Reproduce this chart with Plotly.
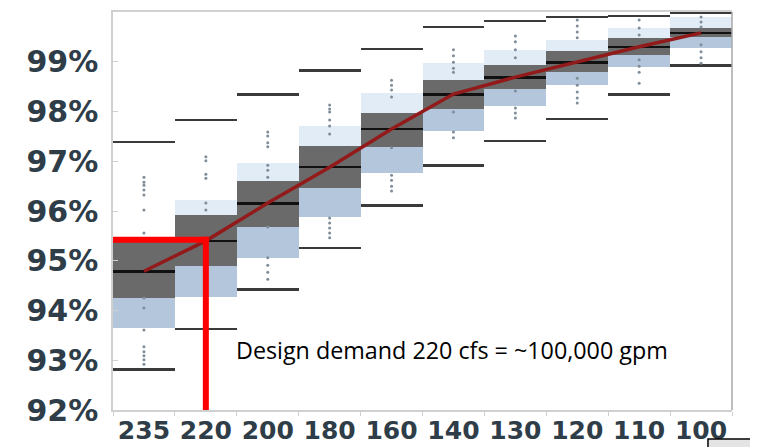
import plotly.graph_objects as go

# ---- data ----
categories = ["235", "220", "200", "180", "160", "140", "130", "120", "110", "100"]
whisker_max = [97.39, 97.83, 98.35, 98.83, 99.26, 99.70, 99.82, 99.90, 99.92, 99.98]
upper_band  = [95.40, 96.22, 96.96, 97.71, 98.37, 98.97, 99.24, 99.44, 99.68, 99.90]
dark_top    = [95.40, 95.92, 96.60, 97.31, 97.97, 98.63, 98.93, 99.22, 99.48, 99.68]
median      = [94.79, 95.40, 96.16, 96.88, 97.65, 98.35, 98.69, 98.99, 99.30, 99.58]
dark_bottom = [94.25, 94.89, 95.68, 96.46, 97.29, 98.05, 98.45, 98.79, 99.14, 99.50]
lower_band  = [93.65, 94.27, 95.05, 95.88, 96.76, 97.61, 98.11, 98.53, 98.89, 99.28]
whisker_min = [92.82, 93.63, 94.43, 95.26, 96.12, 96.92, 97.41, 97.85, 98.35, 98.93]

points = {
    "235": [96.68, 96.58, 96.52, 96.42, 96.32, 96.02, 95.56, 94.25, 94.05, 93.61, 93.27, 93.17, 93.09, 93.01, 92.92],
    "220": [97.09, 97.01, 96.74, 96.66, 96.16, 96.02, 94.61, 94.21, 94.01, 93.77],
    "200": [97.59, 97.51, 97.37, 97.29, 96.92, 96.82, 96.68, 95.68, 95.06, 94.91, 94.77, 94.63],
    "180": [98.13, 98.05, 97.99, 97.83, 97.71, 97.55, 95.86, 95.76, 95.66, 95.56, 95.46],
    "160": [98.63, 98.53, 98.43, 98.29, 97.27, 96.72, 96.62, 96.50, 96.40],
    "140": [99.24, 99.12, 98.99, 98.87, 98.79, 97.99, 97.59, 97.47],
    "130": [99.52, 99.40, 99.24, 99.08, 98.41, 98.07, 97.97, 97.87],
    "120": [99.84, 99.72, 99.60, 99.48, 98.67, 98.53, 98.39, 98.27, 98.17],
    "110": [99.84, 99.68, 99.54, 99.04, 98.91, 98.79, 98.57],
    "100": [99.90, 99.80, 99.70, 99.34, 99.20, 99.08, 98.97],
}

y_tick_vals = [92, 93, 94, 95, 96, 97, 98, 99, 100]
y_tick_text = ["92%", "93%", "94%", "95%", "96%", "97%", "98%", "99%", ""]

design_category = "220"
design_level = 95.42
design_text = "Design demand 220 cfs = ~100,000 gpm"

# ---- styles ----
C_DARK = "#6a6a6a"
C_LIGHT = "#b3c6db"
C_PALE = "#e1ecf7"
C_WHISK = "#3a3a3a"
C_MED = "#111111"
C_RED_LINE = "#931a1a"
C_RED = "#ff0000"
C_LABEL = "#2e3d48"

fig = go.Figure()

def band(lo, hi, color):
    fig.add_trace(go.Bar(
        x=categories, y=[h - l for l, h in zip(lo, hi)], base=lo,
        width=1, marker=dict(color=color, line=dict(width=0)),
        showlegend=False, hoverinfo="skip"))

def thin(vals, color, t=0.02):
    fig.add_trace(go.Bar(
        x=categories, y=[2 * t] * len(vals), base=[v - t for v in vals],
        width=1, marker=dict(color=color, line=dict(width=0)),
        showlegend=False, hoverinfo="skip"))

band(dark_top, upper_band, C_PALE)
band(lower_band, dark_bottom, C_LIGHT)
band(dark_bottom, dark_top, C_DARK)
thin(whisker_max, C_WHISK)
thin(whisker_min, C_WHISK)

# dots
px, py = [], []
for c in categories:
    for v in points[c]:
        px.append(c)
        py.append(v)
fig.add_trace(go.Scatter(x=px, y=py, mode="markers",
                         marker=dict(size=3, color="#7f8c99"),
                         showlegend=False, hoverinfo="skip"))

thin(median, C_MED, 0.02)

fig.add_trace(go.Scatter(x=categories, y=median, mode="lines",
                         line=dict(color=C_RED_LINE, width=3.5),
                         showlegend=False, hoverinfo="skip"))

# design demand marker lines
n = len(categories)
xi = (categories.index(design_category) + 0.5) / n
fig.add_shape(type="line", xref="x domain", yref="y", x0=0, x1=xi + 0.004,
              y0=design_level, y1=design_level,
              line=dict(color=C_RED, width=6), layer="above")
fig.add_shape(type="line", xref="x domain", yref="y", x0=xi, x1=xi,
              y0=design_level + 0.06, y1=91.9,
              line=dict(color=C_RED, width=6), layer="above")

# right border
fig.add_shape(type="line", xref="paper", yref="paper", x0=1, x1=1, y0=0, y1=1,
              line=dict(color="#a8a8a8", width=1.5), layer="above")

fig.add_annotation(text=design_text, xref="x domain", yref="y",
                   x=0.195, y=93.21, xanchor="left", yanchor="middle",
                   showarrow=False,
                   font=dict(family="Open Sans", size=23.3, color="#000000"))

# small box at bottom-right corner
fig.add_shape(type="rect", xref="paper", yref="paper",
              x0=0.9612, x1=1.2, y0=-0.073, y1=-0.3,
              fillcolor="#e4e4e4", line=dict(color="#000000", width=1.5),
              layer="above")

# the page body has an 8px default margin, so the figure is sized to fit
fig.update_layout(
    width=750, height=439,
    margin=dict(l=105, r=26, t=4, b=37, autoexpand=False),
    paper_bgcolor="white", plot_bgcolor="white",
    barmode="overlay", bargap=0,
    showlegend=False,
    xaxis=dict(
        type="category", range=[-0.5, n - 0.5],
        showgrid=False, zeroline=False,
        showline=True, linecolor="#d0d0d0", linewidth=1.5, mirror=True,
        ticks="outside", tickson="boundaries", ticklen=4, tickcolor="#d0d0d0",
        tickangle=0, automargin=False,
        tickfont=dict(family="DejaVu Sans", size=25, color=C_LABEL, weight="bold"),
        ticklabelstandoff=-3,
    ),
    yaxis=dict(
        range=[92, 100], tickvals=y_tick_vals, ticktext=y_tick_text,
        showgrid=False, zeroline=False, automargin=False,
        showline=True, linecolor="#d0d0d0", linewidth=1.5,
        ticks="inside", ticklen=5, tickcolor="#d0d0d0",
        tickfont=dict(family="DejaVu Sans", size=30, color=C_LABEL, weight="bold"),
        ticklabelstandoff=7,
    ),
)

fig.write_html("out.html")
